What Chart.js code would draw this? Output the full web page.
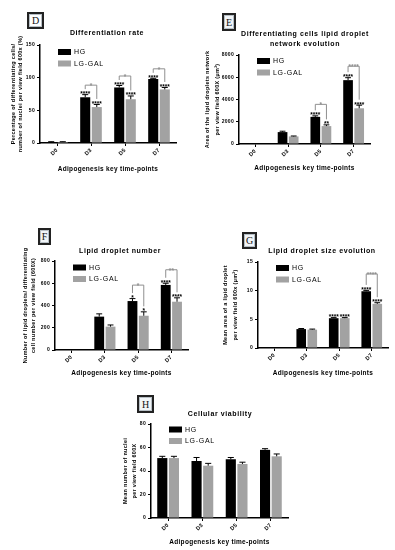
<!DOCTYPE html>
<html>
<head>
<meta charset="utf-8">
<script src="https://cdn.jsdelivr.net/npm/chart.js@4.4.0/dist/chart.umd.min.js"></script>
<style>
  body { margin: 0; background: #fff; width: 395px; height: 550px; position: relative; overflow: hidden; }
  .panel { position: absolute; }
  .badge {
    position: absolute; box-sizing: border-box;
    border: 2px solid #222; box-shadow: inset 0 0 0 1px #b8c0c6;
    background: #f1f5f8; color: #111;
    font-family: "Liberation Serif", "Times New Roman", serif; font-size: 10px;
    display: flex; align-items: center; justify-content: center;
  }
</style>
</head>
<body>
<script>
const timePoints = ['D0', 'D3', 'D5', 'D7'];
const seriesNames = ['HG', 'LG-GAL'];
const xTitle = 'Adipogenesis key time-points';

// D - differentiation rate
const diffHG = [1.5, 70, 85, 98];
const diffHGErr = [0.5, 4, 3, 1];
const diffLG = [1.5, 55, 67, 82];
const diffLGErr = [0.5, 4, 5, 3];
const diffHGStars = ['', '****', '****', '****'];
const diffLGStars = ['', '****', '****', '****'];
const diffPairStars = ['', '*', '*', '*'];
const diffTicks = [0, 50, 100, 150];

// E - lipid droplet network area
const netHG = [0, 1070, 2440, 5740];
const netHGErr = [0, 80, 90, 220];
const netLG = [0, 680, 1610, 3210];
const netLGErr = [0, 40, 110, 280];
const netHGStars = ['', '', '****', '****'];
const netLGStars = ['', '', '**', '****'];
const netPairStars = ['', '', '*', '****'];
const netTicks = [0, 2000, 4000, 6000, 8000];

// F - lipid droplet number
const numHG = [0, 300, 440, 585];
const numHGErr = [0, 25, 22, 15];
const numLG = [0, 210, 308, 434];
const numLGErr = [0, 15, 35, 35];
const numHGStars = ['', '', '*', '****'];
const numLGStars = ['', '', '*', '****'];
const numPairStars = ['', '', '*', '**'];
const numTicks = [0, 200, 400, 600, 800];

// G - lipid droplet size
const sizeHG = [0, 3.3, 5.2, 9.9];
const sizeHGErr = [0, 0.1, 0.1, 0.15];
const sizeLG = [0, 3.2, 5.2, 7.7];
const sizeLGErr = [0, 0.1, 0.1, 0.2];
const sizeHGStars = ['', '', '****', '****'];
const sizeLGStars = ['', '', '****', '****'];
const sizePairStars = ['', '', '', '****'];
const sizeTicks = [0, 5, 10, 15];

// H - cellular viability
const viaHG = [51, 48.5, 50, 58];
const viaHGErr = [1.5, 3, 1.5, 1];
const viaLG = [51, 44.5, 46, 52.5];
const viaLGErr = [1.5, 2, 1.5, 2];
const viaTicks = [0, 20, 40, 60, 80];

const FONT = '"Liberation Sans", Arial, sans-serif';
Chart.defaults.font.family = FONT;
Chart.defaults.color = '#000';

const annotPlugin = {
  id: 'annot',
  beforeDraw(chart) {
    chart.ctx.letterSpacing = '0.3px';
  },
  afterDatasetsDraw(chart) {
    const p = chart.options.plugins.annot;
    const { ctx, chartArea, scales: { x, y } } = chart;
    const cvLeft = p.box[0], cvTop = p.box[1];
    ctx.save();
    const tops = [[], []];
    chart.data.datasets.forEach((ds, di) => {
      const meta = chart.getDatasetMeta(di);
      meta.data.forEach((bar, i) => {
        const v = ds.data[i], e = ds.err[i];
        let top = y.getPixelForValue(v);
        if (e) {
          const yTop = y.getPixelForValue(v + e);
          ctx.strokeStyle = '#000';
          ctx.lineWidth = 1;
          ctx.beginPath();
          ctx.moveTo(bar.x, y.getPixelForValue(v));
          ctx.lineTo(bar.x, yTop);
          ctx.moveTo(bar.x - bar.width * 0.3, yTop);
          ctx.lineTo(bar.x + bar.width * 0.3, yTop);
          ctx.stroke();
          top = yTop;
        }
        const s = ds.stars ? ds.stars[i] : '';
        if (s) {
          ctx.fillStyle = '#000';
          ctx.font = 'bold 6.5px ' + FONT;
          ctx.letterSpacing = '0px';
          ctx.textAlign = 'center';
          ctx.textBaseline = 'alphabetic';
          ctx.fillText(s, bar.x, top + 1.5);
          top = top + 1.5 - 5;
        }
        tops[di][i] = { x: bar.x, top };
      });
    });
    // significance brackets between HG and LG-GAL
    (p.pairStars || []).forEach((s, i) => {
      if (!s) return;
      const a = tops[0][i], b = tops[1][i];
      const yb = Math.min(a.top, b.top) - p.bracketGap;
      ctx.strokeStyle = '#8f8f8f';
      ctx.lineWidth = 1;
      ctx.beginPath();
      ctx.moveTo(a.x, a.top - 2);
      ctx.lineTo(a.x, yb);
      ctx.lineTo(b.x, yb);
      ctx.lineTo(b.x, b.top - 2);
      ctx.stroke();
      ctx.fillStyle = '#8f8f8f';
      ctx.font = 'bold 6.5px ' + FONT;
      ctx.textAlign = 'center';
      ctx.textBaseline = 'alphabetic';
      ctx.fillText(s, (a.x + b.x) / 2, yb + 3);
    });
    // legend
    const colors = chart.data.datasets.map(d => d.backgroundColor);
    ctx.font = '7px ' + FONT;
    ctx.letterSpacing = '0.7px';
    ctx.textAlign = 'left';
    ctx.textBaseline = 'middle';
    seriesNames.forEach((name, i) => {
      const cy = chartArea.top + p.legendTop + i * 11.5;
      const lx = chartArea.left + 18;
      ctx.fillStyle = colors[i];
      ctx.fillRect(lx, cy - 3, 13, 6);
      ctx.fillStyle = '#000';
      ctx.fillText(name, lx + 16, cy + 0.5);
    });
    // panel title
    ctx.font = 'bold 7px ' + FONT;
    ctx.letterSpacing = '0.6px';
    ctx.textAlign = 'center';
    p.title.forEach((line, i) => {
      ctx.fillText(line, p.titleX - cvLeft, p.titleY - cvTop + i * 10);
    });
    ctx.restore();
  }
};

function makePanel(p) {
  const [bx, by, bw, bh] = p.box;
  const [al, at, ar, ab] = p.area;
  const wrap = document.createElement('div');
  wrap.className = 'panel';
  wrap.style.left = bx + 'px';
  wrap.style.top = by + 'px';
  const canvas = document.createElement('canvas');
  canvas.width = bw;
  canvas.height = bh;
  wrap.appendChild(canvas);
  document.body.appendChild(wrap);

  const badge = document.createElement('div');
  badge.className = 'badge';
  badge.textContent = p.letter;
  badge.style.left = p.badge[0] + 'px';
  badge.style.top = p.badge[1] + 'px';
  badge.style.width = p.badge[2] + 'px';
  badge.style.height = p.badge[3] + 'px';
  if (p.letter === 'D') { badge.style.background = '#fff'; }
  document.body.appendChild(badge);

  const yW = al - bx;
  const xH = by + bh - ab;
  const ticks = p.ticks;

  new Chart(canvas, {
    type: 'bar',
    data: {
      labels: timePoints,
      datasets: [
        { label: seriesNames[0], data: p.hg, err: p.hgErr, stars: p.hgStars, backgroundColor: '#000000' },
        { label: seriesNames[1], data: p.lg, err: p.lgErr, stars: p.lgStars, backgroundColor: '#a2a2a2' }
      ]
    },
    options: {
      responsive: false,
      animation: false,
      layout: { padding: { left: 0, top: at - by, right: bx + bw - ar, bottom: 0 } },
      datasets: { bar: { categoryPercentage: 0.68, barPercentage: 0.87 } },
      plugins: {
        legend: { display: false },
        tooltip: { enabled: false },
        annot: {
          box: p.box, title: p.title, titleX: p.titleX, titleY: p.titleY,
          pairStars: p.pairStars, bracketGap: p.bracketGap, legendTop: p.legendTop
        }
      },
      scales: {
        x: {
          grid: { drawOnChartArea: false, offset: false, tickLength: 3, color: '#000', lineWidth: 1 },
          border: { color: '#000', width: 1.5 },
          ticks: { minRotation: 45, maxRotation: 45, padding: 1, font: { size: 5.5, weight: 'bold' } },
          title: {
            display: true, text: xTitle, font: { size: 6.5, weight: 'bold' },
            padding: { top: 0, bottom: p.xTitlePad }
          },
          afterFit: s => { s.height = xH; }
        },
        y: {
          min: ticks[0],
          max: ticks[ticks.length - 1],
          ticks: {
            stepSize: ticks[1] - ticks[0], padding: 2, font: { size: 5, weight: 'bold' },
            callback: v => String(v)
          },
          grid: { drawOnChartArea: false, tickLength: 3, color: '#000', lineWidth: 1 },
          border: { color: '#000', width: 1.5 },
          title: {
            display: true, text: p.yTitle,
            font: { size: 5.5, weight: 'bold', lineHeight: p.yLine + 'px' },
            padding: { top: p.yPad, bottom: 0 }
          },
          afterFit: s => { s.width = yW; }
        }
      }
    },
    plugins: [annotPlugin]
  });
}

makePanel({
  letter: 'D', badge: [27, 12, 17, 17],
  box: [0, 0, 195, 180], area: [40, 45, 176, 143],
  title: ['Differentiation rate'], titleX: 107, titleY: 33.5,
  yTitle: ['Percentage of differentiating cells/', 'number of nuclei per view field 600x (%)'],
  yLine: 7, yPad: 9.5, xTitlePad: 7,
  hg: diffHG, hgErr: diffHGErr, lg: diffLG, lgErr: diffLGErr,
  hgStars: diffHGStars, lgStars: diffLGStars, pairStars: diffPairStars,
  ticks: diffTicks, bracketGap: 6, legendTop: 7
});

makePanel({
  letter: 'E', badge: [222, 13, 14, 18],
  box: [197, 0, 198, 180], area: [239, 55, 370, 144],
  title: ['Differentiating cells lipid droplet', 'network evolution'], titleX: 305, titleY: 34.5,
  yTitle: ['Area of the lipid droplets network', 'per view field 600X (µm²)'],
  yLine: 10, yPad: 5.7, xTitlePad: 8,
  hg: netHG, hgErr: netHGErr, lg: netLG, lgErr: netLGErr,
  hgStars: netHGStars, lgStars: netLGStars, pairStars: netPairStars,
  ticks: netTicks, bracketGap: 8, legendTop: 6
});

makePanel({
  letter: 'F', badge: [38, 228, 13, 17],
  box: [0, 200, 195, 185], area: [55, 261, 188, 350],
  title: ['Lipid droplet number'], titleX: 120, titleY: 251.5,
  yTitle: ['Number of lipid droplets/ differentiating', 'cell number per view field (600X)'],
  yLine: 8.4, yPad: 21, xTitlePad: 8,
  hg: numHG, hgErr: numHGErr, lg: numLG, lgErr: numLGErr,
  hgStars: numHGStars, lgStars: numLGStars, pairStars: numPairStars,
  ticks: numTicks, bracketGap: 10, legendTop: 6.5
});

makePanel({
  letter: 'G', badge: [242, 232, 15, 17],
  box: [197, 200, 198, 185], area: [258, 262, 388, 348],
  title: ['Lipid droplet size evolution'], titleX: 322, titleY: 251,
  yTitle: ['Mean area of a lipid droplet', 'per view field 600x (µm²)'],
  yLine: 9.7, yPad: 23.5, xTitlePad: 8,
  hg: sizeHG, hgErr: sizeHGErr, lg: sizeLG, lgErr: sizeLGErr,
  hgStars: sizeHGStars, lgStars: sizeLGStars, pairStars: sizePairStars,
  ticks: sizeTicks, bracketGap: 13, legendTop: 6
});

makePanel({
  letter: 'H', badge: [137, 395, 17, 18],
  box: [100, 385, 200, 165], area: [151, 424, 288, 518],
  title: ['Cellular viability'], titleX: 220, titleY: 414.5,
  yTitle: ['Mean number of nuclei', 'per view field 600X'],
  yLine: 8.5, yPad: 21.7, xTitlePad: 3.6,
  hg: viaHG, hgErr: viaHGErr, lg: viaLG, lgErr: viaLGErr,
  hgStars: null, lgStars: null, pairStars: [],
  ticks: viaTicks, bracketGap: 8, legendTop: 5.5
});
</script>
</body>
</html>
